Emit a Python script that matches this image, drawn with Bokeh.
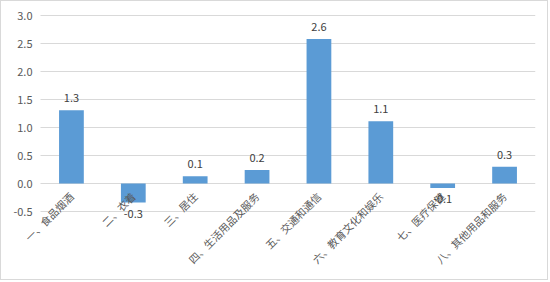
from math import pi
from bokeh.plotting import figure
from bokeh.models import (ColumnDataSource, LabelSet, Range1d,
                          FixedTicker, NumeralTickFormatter)
from bokeh.core.properties import value
from bokeh.embed import file_html
from bokeh.resources import INLINE

categories = ["一、食品烟酒", "二、衣着", "三、居住", "四、生活用品及服务",
              "五、交通和通信", "六、教育文化和娱乐", "七、医疗保健", "八、其他用品和服务"]
values = [1.31, -0.34, 0.13, 0.24, 2.58, 1.11, -0.08, 0.30]
y_ticks = [-0.5, 0.0, 0.5, 1.0, 1.5, 2.0, 2.5, 3.0]

FONT = "Noto Sans CJK SC"
BAR = "#5b9bd5"
GRID = "#d9d9d9"
TXT = "#595959"

xpos = list(range(1, len(categories) + 1))
labels = [f"{v:.1f}" for v in values]
src = ColumnDataSource(dict(x=xpos, val=values, lab=labels))
pos = ColumnDataSource(dict(x=[x for x, v in zip(xpos, values) if v >= 0],
                            val=[v for v in values if v >= 0],
                            lab=[l for l, v in zip(labels, values) if v >= 0]))
neg = ColumnDataSource(dict(x=[x for x, v in zip(xpos, values) if v < 0],
                            val=[v for v in values if v < 0],
                            lab=[l for l, v in zip(labels, values) if v < 0]))

p = figure(width=548, height=280, output_backend="svg", toolbar_location=None,
           x_range=Range1d(-0.1303, len(categories) + 0.5),
           y_range=Range1d(-1.75, 3.25))
p.min_border_left = 0
p.min_border_right = 14
p.min_border_top = 0
p.min_border_bottom = 0
p.styles = {"border": "1px solid #d9d9d9"}
p.outline_line_color = None
p.background_fill_color = "white"
p.border_fill_color = "white"

# horizontal grid lines only across the category area
grid_ok = False
try:
    p.ygrid.cross_bounds = (0.5, len(categories) + 0.5)
    grid_ok = True
except Exception:
    grid_ok = False
p.xgrid.grid_line_color = None
p.ygrid.ticker = FixedTicker(ticks=y_ticks)
if grid_ok:
    p.ygrid.grid_line_color = GRID
    p.ygrid.grid_line_width = 1
else:
    p.ygrid.grid_line_color = None
    p.segment(x0=[0.5] * len(y_ticks), x1=[len(categories) + 0.5] * len(y_ticks),
              y0=y_ticks, y1=y_ticks, line_color=GRID, line_width=1)

p.vbar(x="x", top="val", bottom=0, width=0.4, source=src,
       fill_color=BAR, line_color=None)

p.add_layout(LabelSet(x="x", y="val", text="lab", source=pos, y_offset=8,
                      text_align="center", text_baseline="bottom",
                      text_font=value(FONT), text_font_size="11px", text_color="#404040"))
p.add_layout(LabelSet(x="x", y="val", text="lab", source=neg, y_offset=-7,
                      text_align="center", text_baseline="top",
                      text_font=value(FONT), text_font_size="11px", text_color="#404040"))

p.yaxis.fixed_location = 0.5
p.yaxis.ticker = FixedTicker(ticks=y_ticks)
p.yaxis.formatter = NumeralTickFormatter(format="0.0")
p.yaxis.axis_line_color = None
p.yaxis.major_tick_line_color = None
p.yaxis.minor_tick_line_color = None
p.yaxis.major_tick_out = 0
p.yaxis.major_tick_in = 0
p.yaxis.major_label_text_font = FONT
p.yaxis.major_label_text_font_size = "11px"
p.yaxis.major_label_text_color = TXT
p.yaxis.major_label_standoff = 8

p.xaxis.fixed_location = 0
p.xaxis.ticker = FixedTicker(ticks=xpos)
p.xaxis.major_label_overrides = {x: c for x, c in zip(xpos, categories)}
p.xaxis.axis_line_color = None
p.xaxis.major_tick_line_color = None
p.xaxis.minor_tick_line_color = None
p.xaxis.major_label_orientation = pi / 4
p.xaxis.major_label_text_font = FONT
p.xaxis.major_label_text_font_size = "10.5px"
p.xaxis.major_label_text_color = TXT
p.xaxis.major_label_standoff = 5

open("out.html", "w").write(file_html(p, INLINE))
